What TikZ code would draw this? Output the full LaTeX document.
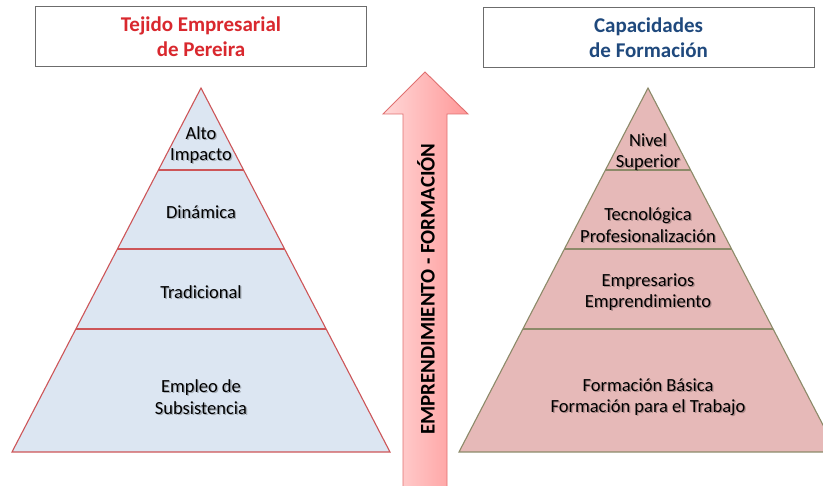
\documentclass[tikz,border=0pt]{standalone}
\usepackage{fontspec}
\setmainfont{Carlito}
\usetikzlibrary{calc}
\definecolor{titlered}{RGB}{217,40,46}
\definecolor{titleblue}{RGB}{31,73,125}
\definecolor{lfill}{RGB}{220,230,242}
\definecolor{lborder}{RGB}{205,85,88}
\definecolor{rfill}{RGB}{230,185,184}
\definecolor{rborder}{RGB}{140,138,105}
\definecolor{arrowL}{RGB}{255,216,216}
\definecolor{arrowR}{RGB}{255,152,152}
\definecolor{arrowB}{RGB}{224,112,112}
\newcommand\tierlabel[3]{%
  \node[tier,text=black,opacity=0.25] at ([shift={(1.3,1.3)}]#2) {#3};
  \node[tier] (#1) at (#2) {#3};}
\begin{document}
\begin{tikzpicture}[x=1pt,y=-1pt,
  titlebox/.style={draw=gray!85!black, line width=1pt, fill=white,
    minimum width=331pt, minimum height=60pt, inner sep=0pt, align=center,
    font=\fontsize{21}{25}\selectfont\bfseries},
  tier/.style={align=center, font=\fontsize{18.5}{21.5}\selectfont, text=black, inner sep=0pt},
  lpyr/.style={fill=lfill, draw=lborder, line width=1.1pt, line join=miter},
  rpyr/.style={fill=rfill, draw=rborder, line width=1.1pt, line join=miter},
  ldiv/.style={draw=lborder, line width=1.4pt},
  rdiv/.style={draw=rborder, line width=1.4pt}]
\useasboundingbox (0,0) rectangle (823,486);
\clip (0,0) rectangle (823,486);
\fill[white] (0,0) rectangle (823,486);

% title boxes
\node[titlebox, text=titlered] (title1) at (201,37) {Tejido Empresarial\\de Pereira};
\node[titlebox, text=titleblue] (title2) at (648.5,37.5) {Capacidades\\de Formación};

% left pyramid
\coordinate (LA) at (201,88);
\coordinate (LBL) at (12,452);
\coordinate (LBR) at (390,452);
\path[lpyr] (LA) -- (LBR) -- (LBL) -- cycle;
\foreach \t in {0.2253,0.4423,0.6621}
  \draw[ldiv] ($(LA)!\t!(LBL)$) -- ($(LA)!\t!(LBR)$);

% right pyramid
\coordinate (RA) at (648,88);
\coordinate (RBL) at (459,452);
\coordinate (RBR) at (837,452);
\path[rpyr] (RA) -- (RBR) -- (RBL) -- cycle;
\foreach \t in {0.2253,0.4423,0.6621}
  \draw[rdiv] ($(RA)!\t!(RBL)$) -- ($(RA)!\t!(RBR)$);

% labels
\tierlabel{l1}{201,145}{Alto\\Impacto}
\tierlabel{l2}{201,212}{Dinámica}
\tierlabel{l3}{201,292}{Tradicional}
\tierlabel{l4}{201,397}{Empleo de\\Subsistencia}
\tierlabel{r1}{648,152}{Nivel\\Superior}
\tierlabel{r2}{648,225}{Tecnológica\\Profesionalización}
\tierlabel{r3}{648,292}{Empresarios\\Emprendimiento}
\tierlabel{r4}{648,397}{Formación Básica\\Formación para el Trabajo}

% arrow
\shadedraw[left color=arrowL, right color=arrowR, draw=arrowB, line width=0.9pt, line join=miter]
  (425,72) -- (468,114) -- (447,114) -- (447,492) -- (403,492) -- (403,114) -- (383,114) -- cycle;
\node[rotate=90, font=\fontsize{20.8}{24}\selectfont\bfseries, inner sep=0pt] (arrowtext) at (426,289)
  {EMPRENDIMIENTO - FORMACIÓN};
\end{tikzpicture}
\end{document}
